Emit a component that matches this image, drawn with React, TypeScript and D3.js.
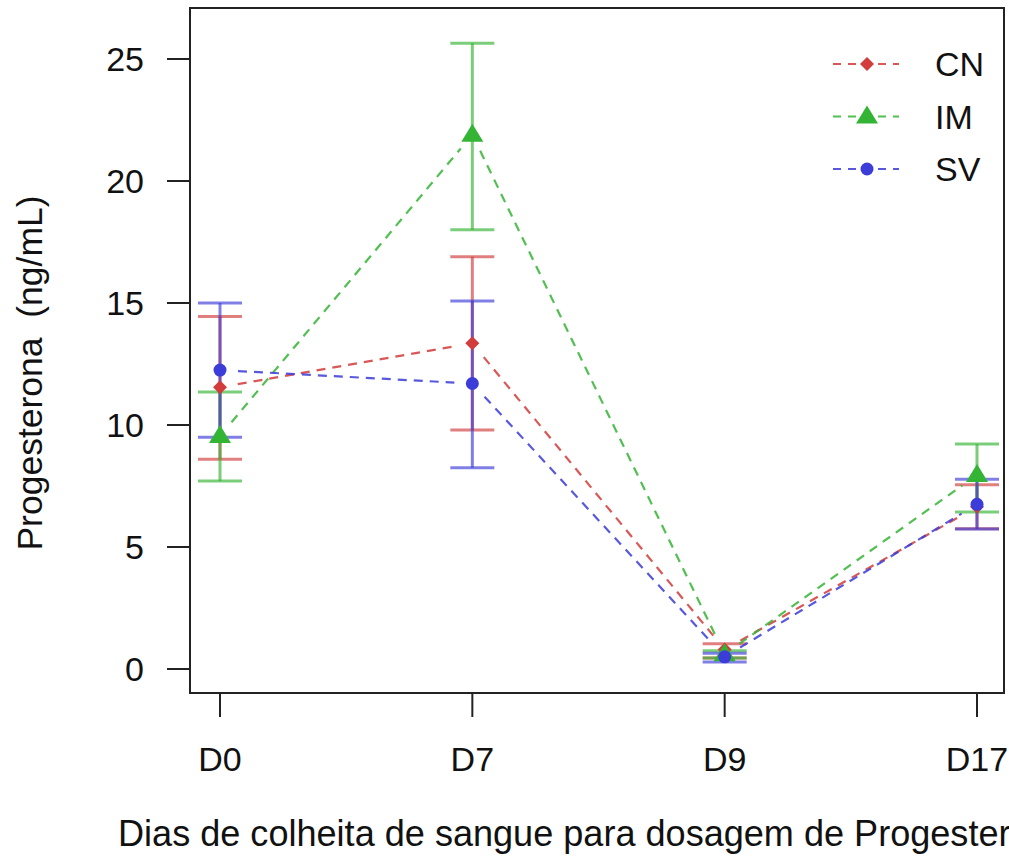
import React, { useEffect, useRef } from "react";
import * as d3 from "d3";

// days of blood sampling
const days = ["D0", "D7", "D9", "D17"];
const groups = ["CN", "IM", "SV"];

// mean progesterone per group (ng/mL)
const cnMean = [11.55, 13.35, 0.8, 6.65];
const imMean = [9.55, 21.9, 0.6, 7.95];
const svMean = [12.25, 11.7, 0.5, 6.75];

// error bar limits
const cnLow = [8.6, 9.8, 0.45, 5.75];
const cnHigh = [14.45, 16.9, 1.03, 7.55];
const imLow = [7.7, 18.0, 0.45, 6.43];
const imHigh = [11.35, 25.65, 0.75, 9.22];
const svLow = [9.5, 8.25, 0.29, 5.74];
const svHigh = [15.0, 15.08, 0.65, 7.78];

const yTicks = [0, 5, 10, 15, 20, 25];

const colors = ["#d23c3c", "#34b434", "#3c3cd8"];
const shapes = ["diamond", "triangle", "circle"];

export default function App() {
  const ref = useRef(null);

  useEffect(() => {
    var svg = d3.select(ref.current);
    svg.selectAll("*").remove();

    var box = { left: 190, top: 8, right: 1004, bottom: 693 };
    var font = "'Liberation Sans', Arial, Helvetica, sans-serif";

    var x = d3.scaleLinear().domain([0, 3]).range([220, 977]);
    var y = d3.scaleLinear().domain([0, 25]).range([669, 59]);

    var series = [
      { name: groups[0], mean: cnMean, low: cnLow, high: cnHigh },
      { name: groups[1], mean: imMean, low: imLow, high: imHigh },
      { name: groups[2], mean: svMean, low: svLow, high: svHigh },
    ];

    function marker(g, shape, cx, cy, color) {
      if (shape === "diamond") {
        g.append("path")
          .attr("d", `M${cx - 7},${cy} L${cx},${cy - 7} L${cx + 7},${cy} L${cx},${cy + 7} Z`)
          .attr("fill", color);
      } else if (shape === "triangle") {
        g.append("path")
          .attr("d", `M${cx - 11},${cy + 7} L${cx + 11},${cy + 7} L${cx},${cy - 11} Z`)
          .attr("fill", color);
      } else {
        g.append("circle").attr("cx", cx).attr("cy", cy).attr("r", 6.5).attr("fill", color);
      }
    }

    // error bars
    var errG = svg.append("g");
    series.forEach((s, k) => {
      s.mean.forEach((m, i) => {
        var cx = x(i);
        errG.append("line")
          .attr("x1", cx).attr("x2", cx)
          .attr("y1", y(s.low[i])).attr("y2", y(s.high[i]))
          .attr("stroke", colors[k]).attr("stroke-width", 3).attr("opacity", 0.65);
        [s.low[i], s.high[i]].forEach((v) => {
          errG.append("line")
            .attr("x1", cx - 22).attr("x2", cx + 22)
            .attr("y1", y(v)).attr("y2", y(v))
            .attr("stroke", colors[k]).attr("stroke-width", 3).attr("opacity", 0.65);
        });
      });
    });

    // dashed lines (type "b": gaps around points)
    var lineG = svg.append("g");
    series.forEach((s, k) => {
      for (var i = 0; i < s.mean.length - 1; i++) {
        var x1 = x(i), y1 = y(s.mean[i]), x2 = x(i + 1), y2 = y(s.mean[i + 1]);
        var len = Math.hypot(x2 - x1, y2 - y1);
        var gap = 18;
        var ux = (x2 - x1) / len, uy = (y2 - y1) / len;
        lineG.append("line")
          .attr("x1", x1 + ux * gap).attr("y1", y1 + uy * gap)
          .attr("x2", x2 - ux * gap).attr("y2", y2 - uy * gap)
          .attr("stroke", colors[k]).attr("stroke-width", 2.2)
          .attr("stroke-dasharray", "9,7").attr("opacity", 0.85);
      }
    });

    // points
    var ptG = svg.append("g");
    series.forEach((s, k) => {
      s.mean.forEach((m, i) => marker(ptG, shapes[k], x(i), y(m), colors[k]));
    });

    // box
    svg.append("rect")
      .attr("x", box.left).attr("y", box.top)
      .attr("width", box.right - box.left).attr("height", box.bottom - box.top)
      .attr("fill", "none").attr("stroke", "#222").attr("stroke-width", 2);

    // y axis
    var yAx = svg.append("g");
    yTicks.forEach((t) => {
      yAx.append("line")
        .attr("x1", 167).attr("x2", box.left)
        .attr("y1", y(t)).attr("y2", y(t))
        .attr("stroke", "#222").attr("stroke-width", 2);
      yAx.append("text")
        .attr("x", 144).attr("y", y(t))
        .attr("dy", "0.36em")
        .attr("text-anchor", "end")
        .attr("font-family", font).attr("font-size", 34)
        .attr("fill", "#111")
        .text(t);
    });

    // x axis
    var xAx = svg.append("g");
    days.forEach((d, i) => {
      xAx.append("line")
        .attr("x1", x(i)).attr("x2", x(i))
        .attr("y1", box.bottom).attr("y2", 717)
        .attr("stroke", "#222").attr("stroke-width", 2);
      xAx.append("text")
        .attr("x", x(i)).attr("y", 771)
        .attr("text-anchor", "middle")
        .attr("font-family", font).attr("font-size", 34)
        .attr("fill", "#111")
        .text(d);
    });

    // axis titles (the x title runs past the right edge, as in the source image)
    svg.append("text")
      .attr("x", 118).attr("y", 846)
      .attr("font-family", font).attr("font-size", 36.1)
      .attr("fill", "#111")
      .text("Dias de colheita de sangue para dosagem de Progesterona");

    svg.append("text")
      .attr("transform", "translate(42,373) rotate(-90)")
      .attr("text-anchor", "middle")
      .attr("font-family", font).attr("font-size", 35.5)
      .attr("fill", "#111")
      .attr("xml:space", "preserve")
      .style("white-space", "pre")
      .text("Progesterona  (ng/mL)");

    // legend
    var leg = svg.append("g");
    series.forEach((s, k) => {
      var ly = 64 + k * 52.5;
      leg.append("line")
        .attr("x1", 833).attr("x2", 899)
        .attr("y1", ly).attr("y2", ly)
        .attr("stroke", colors[k]).attr("stroke-width", 2.2)
        .attr("stroke-dasharray", "8,7").attr("opacity", 0.85);
      marker(leg, shapes[k], 867, ly, colors[k]);
      leg.append("text")
        .attr("x", 935).attr("y", ly)
        .attr("dy", "0.36em")
        .attr("font-family", font).attr("font-size", 34)
        .attr("fill", "#111")
        .text(s.name);
    });
  }, []);

  return (
    <svg
      ref={ref}
      width={1009}
      height={859}
      style={{ position: "absolute", left: 0, top: 0, background: "#fff" }}
    />
  );
}
